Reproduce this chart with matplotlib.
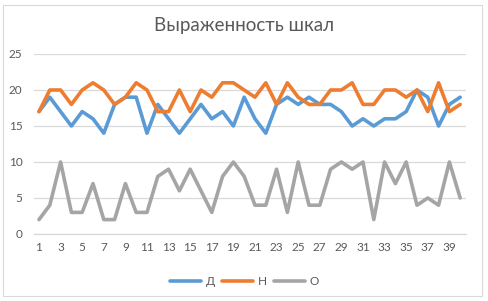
import matplotlib
matplotlib.use("Agg")
import matplotlib.pyplot as plt

plt.rcParams["font.family"] = ["Lato", "DejaVu Sans"]

x = list(range(1, 41))
d_vals = [17, 19, 17, 15, 17, 16, 14, 18, 19, 19, 14, 18, 16, 14, 16, 18, 16, 17, 15, 19,
          16, 14, 18, 19, 18, 19, 18, 18, 17, 15, 16, 15, 16, 16, 17, 20, 19, 15, 18, 19]
n_vals = [17, 20, 20, 18, 20, 21, 20, 18, 19, 21, 20, 17, 17, 20, 17, 20, 19, 21, 21, 20,
          19, 21, 18, 21, 19, 18, 18, 20, 20, 21, 18, 18, 20, 20, 19, 20, 17, 21, 17, 18]
o_vals = [2, 4, 10, 3, 3, 7, 2, 2, 7, 3, 3, 8, 9, 6, 9, 6, 3, 8, 10, 8,
          4, 4, 9, 3, 10, 4, 4, 9, 10, 9, 10, 2, 10, 7, 10, 4, 5, 4, 10, 5]
series_names = ["Д", "Н", "О"]
colors = ["#5B9BD5", "#ED7D31", "#A5A5A5"]
title = "Выраженность шкал"
xtick_labels = [str(i) for i in range(1, 41, 2)]

fig = plt.figure(figsize=(4.89, 3.01), dpi=100)
ax = fig.add_axes([0.0687, 0.2226, 0.8834, 0.598])

for vals, name, c in zip([d_vals, n_vals, o_vals], series_names, colors):
    ax.plot(x, vals, color=c, lw=2.6, label=name, solid_capstyle="round", solid_joinstyle="round")

ax.set_xlim(0.5, 40.5)
ax.set_ylim(0, 25)
ax.set_yticks([0, 5, 10, 15, 20, 25])
ax.set_xticks(list(range(1, 41, 2)))
ax.set_xticklabels(xtick_labels)
ax.grid(axis="y", color="#D9D9D9", lw=0.9)
ax.set_axisbelow(True)
for s in ["top", "right", "left"]:
    ax.spines[s].set_visible(False)
ax.spines["bottom"].set_color("#D9D9D9")
ax.spines["bottom"].set_linewidth(0.9)
ax.tick_params(axis="both", length=0, labelsize=8.5, labelcolor="#595959")
ax.tick_params(axis="y", pad=8)
ax.tick_params(axis="x", pad=6)

fig.text(0.5, 0.915, title, ha="center", va="center", fontsize=13.5, color="#595959")

fig.legend(loc="center", bbox_to_anchor=(0.5, 0.066), ncol=3, frameon=False,
           fontsize=8.5, labelcolor="#595959", handlelength=2.6, columnspacing=0.6,
           handletextpad=0.4)

fig.patches.append(plt.Rectangle((2.5 / 489, 1 - 295.7 / 301), 480 / 489, 290.7 / 301,
                                 transform=fig.transFigure,
                                 fill=False, edgecolor="#D9D9D9", lw=0.8))
fig.savefig("out.png", dpi=100)
